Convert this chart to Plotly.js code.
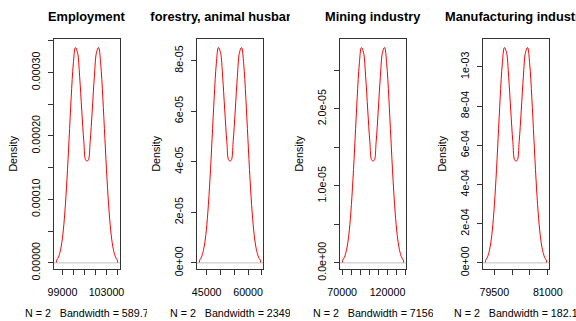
<!DOCTYPE html>
<html>
<head>
<meta charset="utf-8">
<script src="https://cdn.plot.ly/plotly-3.0.1.min.js"></script>
<style>
  html, body { margin: 0; padding: 0; background: #ffffff; }
  #wrap { position: relative; width: 576px; height: 321px; overflow: hidden; background: #fff; }
  .panel { position: absolute; top: 0; width: 143px; height: 321px; overflow: hidden; }
</style>
</head>
<body>
<div id="wrap">
  <div id="p0" class="panel" style="left:4px"></div>
  <div id="p1" class="panel" style="left:147px"></div>
  <div id="p2" class="panel" style="left:290px"></div>
  <div id="p3" class="panel" style="left:433px"></div>
</div>
<script>
// ---- data ----
const panelTitles = ["Employment", "Agriculture, forestry, animal husbandry and fishery", "Mining industry", "Manufacturing industry"];
const obsLow  = [100222, 49433, 91761, 79797];
const obsHigh = [102239, 57468, 116239, 80420];
const bandwidths = [589.7, 2349, 7156, 182.1];
const bandwidthLabels = ["589.7", "2349", "7156", "182.1"];
const sampleSizes = [2, 2, 2, 2];
const peakDensity = [3.392e-4, 8.516e-5, 2.796e-5, 1.0986e-3];
const tailDensity = [3.76e-6, 9.4e-7, 3.1e-7, 1.217e-5];

const xTickVals = [
  [99000, 100000, 101000, 102000, 103000, 104000],
  [45000, 50000, 55000, 60000, 65000],
  [70000, 80000, 90000, 100000, 110000, 120000, 130000, 140000],
  [79500, 80000, 80500, 81000]
];
const xTickText = [
  ["99000", "", "", "", "103000", ""],
  ["45000", "", "", "60000", ""],
  ["70000", "", "", "", "", "120000", "", ""],
  ["79500", "", "", "81000"]
];
const yTickVals = [
  [0, 5e-5, 1e-4, 1.5e-4, 2e-4, 2.5e-4, 3e-4, 3.5e-4],
  [0, 2e-5, 4e-5, 6e-5, 8e-5],
  [0, 5e-6, 1e-5, 1.5e-5, 2e-5, 2.5e-5],
  [0, 2e-4, 4e-4, 6e-4, 8e-4, 1e-3]
];
const yTickText = [
  ["0.00000", "", "0.00010", "", "0.00020", "", "0.00030", ""],
  ["0e+00", "2e-05", "4e-05", "6e-05", "8e-05"],
  ["0.0e+00", "", "1.0e-05", "", "2.0e-05", ""],
  ["0e+00", "2e-04", "4e-04", "6e-04", "8e-04", "1e-03"]
];

// ---- layout constants ----
const FONT = "'Liberation Sans', Arial, sans-serif";
const W = 143, H = 321, L = 50, PW = 66.5, T = 39, PH = 230.3;
const AXC = "#333333";

for (let i = 0; i < 4; i++) {
  const bw = bandwidths[i];
  const lo = obsLow[i] - 3 * bw, hi = obsHigh[i] + 3 * bw;
  const xpad = 0.04 * (hi - lo);
  const ymin = tailDensity[i], ymax = peakDensity[i];
  const ypad = 0.04 * (ymax - ymin);

  const trace = {
    type: 'violin',
    orientation: 'h',
    x: [obsLow[i], obsHigh[i]],
    y0: 0,
    side: 'positive',
    bandwidth: bw,
    spanmode: 'manual',
    span: [lo, hi],
    scalemode: 'width',
    width: 2 * peakDensity[i],
    points: false,
    box: { visible: false },
    meanline: { visible: false },
    line: { color: '#ff0000', width: 1 },
    fillcolor: 'rgba(0,0,0,0)',
    hoverinfo: 'skip',
    showlegend: false
  };

  const layout = {
    width: W, height: H,
    margin: { l: L, r: W - L - PW, t: T, b: H - T - PH, pad: 0 },
    paper_bgcolor: '#ffffff', plot_bgcolor: '#ffffff',
    showlegend: false,
    font: { family: FONT, size: 10.7, color: '#000000' },
    xaxis: {
      type: 'linear', range: [lo - xpad, hi + xpad], fixedrange: true,
      showgrid: false, zeroline: false,
      showline: true, mirror: true, linecolor: AXC, linewidth: 1,
      ticks: 'outside', ticklen: 5, tickwidth: 1, tickcolor: AXC,
      tickmode: 'array', tickvals: xTickVals[i], ticktext: xTickText[i],
      tickfont: { family: FONT, size: 10.7, color: '#000' },
      ticklabelstandoff: 8, automargin: false
    },
    yaxis: {
      type: 'linear', range: [ymin - ypad, ymax + ypad], fixedrange: true,
      showgrid: false, zeroline: false,
      showline: true, mirror: true, linecolor: AXC, linewidth: 1,
      ticks: 'outside', ticklen: 5, tickwidth: 1, tickcolor: AXC,
      tickmode: 'array', tickvals: yTickVals[i], ticktext: yTickText[i],
      tickangle: -90,
      tickfont: { family: FONT, size: 10.7, color: '#000' },
      ticklabelstandoff: 4, automargin: false
    },
    shapes: [{
      type: 'line', xref: 'paper', x0: 0, x1: 1, yref: 'y', y0: 0, y1: 0,
      line: { color: '#bebebe', width: 1 }, layer: 'above'
    }],
    annotations: [
      {
        text: '<b>' + panelTitles[i] + '</b>', showarrow: false,
        xref: 'paper', yref: 'paper', x: 0.5, y: 1 + (T - (20.7 - 0.35 * 12.8)) / PH,
        xanchor: 'center', yanchor: 'middle',
        font: { family: FONT, size: 12.8, color: '#000' }
      },
      {
        text: 'N = ' + sampleSizes[i] + '   Bandwidth = ' + bandwidthLabels[i], showarrow: false,
        xref: 'paper', yref: 'paper', x: 0.5, y: -((316.7 - 0.35 * 10.7) - (T + PH)) / PH,
        xanchor: 'center', yanchor: 'middle',
        font: { family: FONT, size: 10.7, color: '#000' }
      },
      {
        text: 'Density', showarrow: false, textangle: -90,
        xref: 'paper', yref: 'paper', x: (8.3 - L) / PW, y: 0.5,
        xanchor: 'center', yanchor: 'middle',
        font: { family: FONT, size: 10.7, color: '#000' }
      }
    ]
  };

  Plotly.newPlot('p' + i, [trace], layout, { staticPlot: true, displayModeBar: false });
}
</script>
</body>
</html>
